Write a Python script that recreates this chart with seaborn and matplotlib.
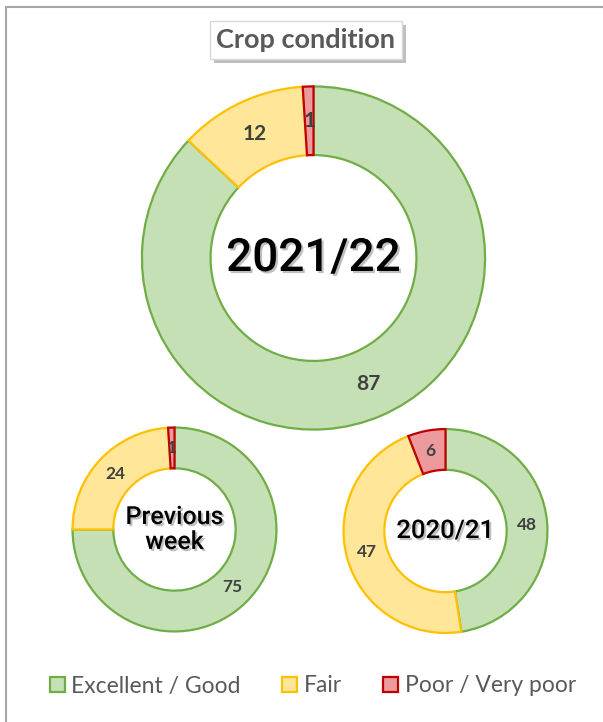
import numpy as np
import seaborn as sns
import matplotlib.pyplot as plt
import matplotlib.patheffects as pe
from matplotlib.patches import Patch
from matplotlib.lines import Line2D

# Data
segments = ["Excellent / Good", "Fair", "Poor / Very poor"]
current = [87, 12, 1]
previous_week = [75, 24, 1]
last_year = [48, 47, 6]

fills = ["#C5E0B4", "#FFE699", "#EC9A9D"]
edges = ["#70AD47", "#FFC000", "#C00000"]

sns.set_theme(style="white")
plt.rcParams['font.family'] = ['Lato', 'DejaVu Sans']

W, H = 603, 722
fig = plt.figure(figsize=(W / 100, H / 100), dpi=100)

def px_axes(cx, cy, r):
    # square axes in pixel units, centre cx,cy (from top-left), radius r
    return fig.add_axes([(cx - r) / W, (H - cy - r) / H, 2 * r / W, 2 * r / H])

def donut(ax, vals, label_size, center_text, center_size):
    total = sum(vals)
    wedges, _, autotexts = ax.pie(
        vals, colors=fills, startangle=90, counterclock=False,
        autopct=lambda p: f"{p * total / 100:.0f}", pctdistance=0.8,
        wedgeprops=dict(width=0.4, linewidth=1.6),
        textprops=dict(color="#404040", fontsize=label_size, fontweight="bold"))
    for w, ec in zip(wedges, edges):
        w.set_edgecolor(ec)
    ax.set_xlim(-1.02, 1.02)
    ax.set_ylim(-1.02, 1.02)
    ax.set_aspect("equal")
    ax.axis("off")
    ax.text(0, 0, center_text, ha="center", va="center", fontsize=center_size,
            color="black", family=["Roboto", "DejaVu Sans"],
            fontweight="medium", linespacing=1.05,
            path_effects=[pe.withSimplePatchShadow(offset=(1.5, -1.5), shadow_rgbFace="gray", alpha=0.5)])

ax_big = px_axes(313.5, 258, 175)
donut(ax_big, current, 15, "2021/22", 33)

ax_prev = px_axes(174.5, 529.5, 104)
donut(ax_prev, previous_week, 12.5, "Previous\nweek", 18)

ax_last = px_axes(445.5, 531, 104)
donut(ax_last, last_year, 12.5, "2020/21", 18.5)

# Title box
t = fig.text(306 / W, 1 - 40 / H, "Crop condition", ha="center", va="center",
             fontsize=19.5, fontweight="bold", color="#595959",
             bbox=dict(boxstyle="square,pad=0.25", fc="white", ec="#D9D9D9", lw=1))
t.get_bbox_patch().set_path_effects([pe.withSimplePatchShadow(offset=(3, -3), shadow_rgbFace="gray", alpha=0.5)])

# Legend
handles = [Patch(facecolor=f, edgecolor=e, linewidth=1.6) for f, e in zip(fills, edges)]
fig.legend(handles, segments, loc="center", bbox_to_anchor=(313 / W, 1 - 686 / H),
           ncol=3, frameon=False, fontsize=16.5, handlelength=0.65, handleheight=0.65,
           handletextpad=0.3, columnspacing=1.8, labelcolor="#595959")

# Frame (top and left edges visible)
fig.add_artist(Line2D([6 / W, 6 / W], [0, 1 - 6.5 / H], transform=fig.transFigure, color="#A6A6A6", lw=1.5))
fig.add_artist(Line2D([6 / W, 1], [1 - 6.5 / H, 1 - 6.5 / H], transform=fig.transFigure, color="#A6A6A6", lw=1.5))

fig.savefig("out.png", dpi=100)
